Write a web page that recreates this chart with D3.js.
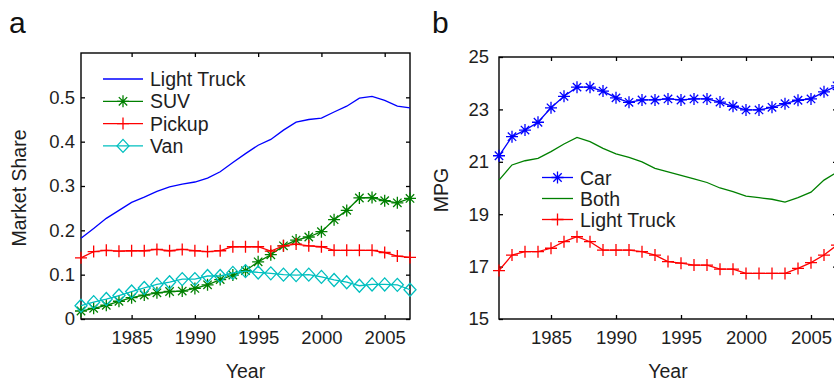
<!DOCTYPE html>
<html>
<head>
<meta charset="utf-8">
<script src="https://cdn.jsdelivr.net/npm/d3@7"></script>
<style>
  html, body { margin: 0; padding: 0; background: #fff; }
  svg { display: block; font-family: "Liberation Sans", Arial, sans-serif; }
</style>
</head>
<body>
<svg id="chart" width="834" height="381"></svg>
<script>
// ---------------- data ----------------
const years = [1981,1982,1983,1984,1985,1986,1987,1988,1989,1990,1991,1992,1993,1994,
               1995,1996,1997,1998,1999,2000,2001,2002,2003,2004,2005,2006,2007];

// Panel a: market share
const lightTruckShare = [0.182,0.204,0.227,0.245,0.263,0.275,0.288,0.298,0.304,0.309,0.318,0.332,0.353,0.373,
                         0.392,0.405,0.426,0.444,0.450,0.453,0.467,0.480,0.498,0.502,0.493,0.480,0.476];
const suvShare    = [0.018,0.024,0.031,0.040,0.048,0.054,0.059,0.062,0.063,0.069,0.077,0.089,0.099,0.109,
                     0.129,0.145,0.165,0.178,0.185,0.197,0.224,0.245,0.273,0.274,0.267,0.262,0.272];
const pickupShare = [0.138,0.152,0.155,0.153,0.154,0.154,0.157,0.154,0.157,0.154,0.152,0.154,0.163,0.163,
                     0.163,0.153,0.165,0.169,0.165,0.163,0.155,0.155,0.155,0.155,0.150,0.142,0.139];
const vanShare    = [0.030,0.038,0.045,0.053,0.062,0.070,0.078,0.083,0.090,0.090,0.097,0.097,0.104,0.108,
                     0.105,0.103,0.100,0.099,0.100,0.095,0.088,0.083,0.075,0.078,0.078,0.077,0.066];

// Panel b: MPG
const carMPG   = [21.23,21.96,22.21,22.51,23.06,23.50,23.85,23.85,23.70,23.44,23.27,23.36,23.36,23.40,
                  23.36,23.40,23.40,23.28,23.12,22.98,22.98,23.08,23.22,23.35,23.40,23.67,23.90];
const bothMPG  = [20.30,20.88,21.04,21.13,21.39,21.68,21.93,21.77,21.51,21.30,21.17,21.00,20.75,20.62,
                  20.48,20.35,20.21,20.00,19.86,19.69,19.63,19.57,19.46,19.63,19.84,20.30,20.60];
const truckMPG = [16.85,17.44,17.57,17.57,17.70,17.95,18.14,17.95,17.63,17.63,17.63,17.57,17.44,17.19,
                  17.13,17.06,17.06,16.90,16.90,16.74,16.74,16.74,16.74,16.93,17.15,17.44,17.82];

const yearTicks  = [1985,1990,1995,2000,2005];
const shareTicks = [0,0.1,0.2,0.3,0.4,0.5];
const mpgTicks   = [15,17,19,21,23,25];

const seriesA = [
  {name: "Light Truck", values: lightTruckShare, color: "#0000ff", marker: null},
  {name: "SUV",         values: suvShare,        color: "#008000", marker: "asterisk"},
  {name: "Pickup",      values: pickupShare,     color: "#ff0000", marker: "plus"},
  {name: "Van",         values: vanShare,        color: "#00bfbf", marker: "diamond"}
];
const seriesB = [
  {name: "Car",         values: carMPG,   color: "#0000ff", marker: "asterisk"},
  {name: "Both",        values: bothMPG,  color: "#008000", marker: null},
  {name: "Light Truck", values: truckMPG, color: "#ff0000", marker: "plus"}
];

// ---------------- helpers ----------------
const svg = d3.select("#chart");
const textColor = "#1e1e1e";

function markerPath(type) {
  if (type === "plus") return "M-6,0H6M0,-6V6";
  if (type === "asterisk") return "M-6,0H6M0,-6V6M-4.2,-4.2L4.2,4.2M-4.2,4.2L4.2,-4.2";
  if (type === "diamond") return "M0,-6.5L6,0L0,6.5L-6,0Z";
  return "";
}

function drawPanel(cfg) {
  const {left, right, top, bottom, xDomain, yDomain, yTicks, yFmt, labelGap, series, legend, ylabel, ylabelX, letter, letterX} = cfg;
  const x = d3.scaleLinear().domain(xDomain).range([left, right]);
  const y = d3.scaleLinear().domain(yDomain).range([bottom, top]);
  const g = svg.append("g");

  // frame
  g.append("rect").attr("x", left).attr("y", top).attr("width", right - left).attr("height", bottom - top)
    .attr("fill", "none").attr("stroke", "#000").attr("stroke-width", 1.4);

  const styleAxis = sel => {
    sel.select(".domain").remove();
    sel.selectAll(".tick line").attr("stroke", "#000").attr("stroke-width", 1.3);
    sel.selectAll(".tick text").attr("fill", textColor).style("font-size", "18.5px")
       .style("font-family", "'Liberation Sans', Arial, sans-serif");
  };

  g.append("g").attr("transform", `translate(0,${bottom})`)
    .call(d3.axisBottom(x).tickValues(yearTicks).tickFormat(d3.format("d")).tickSizeInner(-4).tickSizeOuter(0).tickPadding(12))
    .call(styleAxis);
  g.append("g").attr("transform", `translate(0,${top})`)
    .call(d3.axisTop(x).tickValues(yearTicks).tickFormat("").tickSizeInner(-4).tickSizeOuter(0))
    .call(styleAxis);
  g.append("g").attr("transform", `translate(${left},0)`)
    .call(d3.axisLeft(y).tickValues(yTicks).tickFormat(yFmt).tickSizeInner(-4).tickSizeOuter(0).tickPadding(labelGap))
    .call(styleAxis);
  g.append("g").attr("transform", `translate(${right},0)`)
    .call(d3.axisRight(y).tickValues(yTicks).tickFormat("").tickSizeInner(-4).tickSizeOuter(0))
    .call(styleAxis);

  // series
  const line = d3.line().x((d, i) => x(years[i])).y(d => y(d));
  series.forEach(s => {
    g.append("path").datum(s.values).attr("d", line)
      .attr("fill", "none").attr("stroke", s.color).attr("stroke-width", 1.3);
    if (s.marker) {
      g.selectAll(null).data(s.values).enter().append("path")
        .attr("transform", (d, i) => `translate(${x(years[i])},${y(d)})`)
        .attr("d", markerPath(s.marker))
        .attr("fill", "none").attr("stroke", s.color).attr("stroke-width", 1.3);
    }
  });

  // legend
  series.forEach((s, i) => {
    const ly = legend.y0 + i * legend.dy;
    g.append("line").attr("x1", legend.x0).attr("x2", legend.x1).attr("y1", ly).attr("y2", ly)
      .attr("stroke", s.color).attr("stroke-width", 1.3);
    if (s.marker) {
      g.append("path").attr("transform", `translate(${(legend.x0 + legend.x1) / 2},${ly})`)
        .attr("d", markerPath(s.marker)).attr("fill", "none").attr("stroke", s.color).attr("stroke-width", 1.3);
    }
    g.append("text").attr("x", legend.tx).attr("y", ly + 7).text(s.name)
      .attr("fill", textColor).style("font-size", "19.5px");
  });

  // axis labels
  g.append("text").attr("x", (left + right) / 2).attr("y", 378).attr("text-anchor", "middle")
    .attr("fill", textColor).style("font-size", "19.5px").text("Year");
  g.append("text").attr("transform", `translate(${ylabelX},${(top + bottom) / 2 + 2}) rotate(-90)`)
    .attr("text-anchor", "middle").attr("fill", textColor).style("font-size", "19.5px").text(ylabel);

  // panel letter
  g.append("text").attr("x", letterX).attr("y", 33).attr("fill", "#111").style("font-size", "30px").text(letter);
}

drawPanel({
  left: 81, right: 410, top: 53, bottom: 319,
  xDomain: [1981, 2007], yDomain: [0, 0.6], yTicks: shareTicks,
  yFmt: d => d === 0 ? "0" : d3.format(".1f")(d), labelGap: 6,
  series: seriesA,
  legend: {x0: 103, x1: 143, tx: 150, y0: 79, dy: 22.3},
  ylabel: "Market Share", ylabelX: 26, letter: "a", letterX: 9
});

drawPanel({
  left: 499, right: 837, top: 57, bottom: 319,
  xDomain: [1981, 2007], yDomain: [15, 25], yTicks: mpgTicks,
  yFmt: d3.format("d"), labelGap: 10,
  series: seriesB,
  legend: {x0: 542, x1: 573, tx: 580, y0: 177.5, dy: 21},
  ylabel: "MPG", ylabelX: 448, letter: "b", letterX: 432
});
</script>
</body>
</html>
